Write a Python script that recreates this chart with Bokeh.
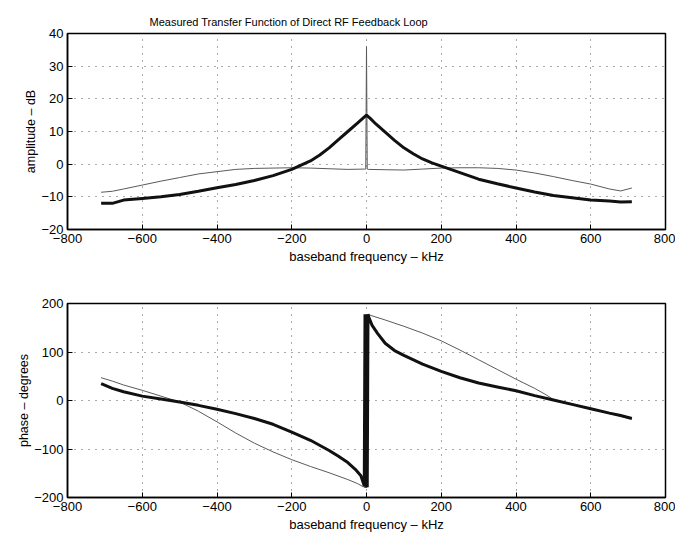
from bokeh.plotting import figure
from bokeh.models import FixedTicker, Range1d
from bokeh.layouts import column
from bokeh.embed import file_html
from bokeh.resources import INLINE

# ---------------- data ----------------
title_text = "Measured Transfer Function of Direct RF Feedback Loop"
x_label = "baseband frequency \u2013 kHz"
amp_label = "amplitude \u2013 dB"
phase_label = "phase \u2013 degrees"

x_ticks = [-800, -600, -400, -200, 0, 200, 400, 600, 800]
x_tick_labels = ["\u2212800", "\u2212600", "\u2212400", "\u2212200", "0", "200", "400", "600", "800"]
amp_ticks = [-20, -10, 0, 10, 20, 30, 40]
amp_tick_labels = ["\u221220", "\u221210", "0", "10", "20", "30", "40"]
phase_ticks = [-200, -100, 0, 100, 200]
phase_tick_labels = ["\u2212200", "\u2212100", "0", "100", "200"]

# amplitude, closed-loop (dark) curve
amp_dark_freq = [-710, -680, -650, -600, -550, -500, -450, -400, -350, -300, -250, -200,
                 -175, -150, -125, -100, -75, -50, -25, -10, 0, 10, 25, 50, 75, 100,
                 125, 150, 175, 200, 250, 300, 350, 400, 450, 500, 550, 600, 650, 680, 710]
amp_dark_db = [-12.0, -12.0, -11.0, -10.5, -10.0, -9.3, -8.3, -7.2, -6.2, -5.0, -3.5, -1.6,
               -0.3, 1.0, 2.8, 5.0, 7.5, 10.0, 12.5, 14.0, 15.0, 14.0, 12.3, 9.8, 7.3, 5.0,
               3.2, 1.6, 0.4, -0.6, -2.6, -4.6, -6.0, -7.3, -8.5, -9.6, -10.3, -11.0, -11.3, -11.6, -11.5]

# amplitude, open-loop (light) curve
amp_light_freq = [-710, -680, -650, -600, -550, -500, -450, -400, -350, -300, -250, -200,
                  -150, -100, -50, -5, -2, 0, 2, 5, 50, 100, 150, 200, 250, 300, 350, 400,
                  450, 500, 550, 600, 650, 680, 710]
amp_light_db = [-8.6, -8.3, -7.6, -6.4, -5.2, -4.1, -3.0, -2.3, -1.6, -1.3, -1.2, -1.1,
                -1.2, -1.4, -1.6, -1.5, -1.5, 36.0, -1.5, -1.6, -1.7, -1.8, -1.5, -1.2, -1.1, -1.1, -1.3, -1.8,
                -2.7, -3.8, -5.0, -6.1, -7.6, -8.2, -7.3]

# phase, closed-loop (dark) curve
phase_dark_freq = [-710, -680, -650, -600, -550, -500, -450, -400, -350, -300, -250, -200,
                   -150, -100, -75, -50, -30, -15, -6, -4, -2, 0, 2, 4, 6, 15, 30, 50, 75, 100,
                   150, 200, 250, 300, 350, 400, 450, 500, 550, 600, 650, 680, 710]
phase_dark_deg = [35, 25, 18, 9, 3, -3, -10, -18, -27, -37, -49, -65,
                  -82, -103, -115, -128, -142, -155, -176, 178, -180, 178, -179, 178, 172, 155, 138, 118, 103, 93,
                  75, 60, 47, 36, 28, 20, 10, 1, -8, -17, -26, -31, -37]

# phase, open-loop (light) curve
phase_light_freq = [-710, -680, -650, -600, -550, -500, -450, -400, -350, -300, -250, -200,
                    -150, -100, -50, -25, -8, 0, 5, 50, 100, 150, 200, 250, 300, 350, 400,
                    450, 480, 500, 550, 600, 650, 710]
phase_light_deg = [47, 40, 32, 21, 9, -3, -22, -44, -67, -88, -106, -122,
                   -136, -149, -163, -171, -178, 0, 177, 166, 153, 139, 123, 104, 84, 64, 44,
                   25, 12, 2, -7, -17, -27, -38]

FONT = "Liberation Sans"
W = 675


def make_fig(height, yr, yticks, ylabels, ylabel, top_border, bottom_border):
    p = figure(width=W, height=height, x_range=Range1d(-800, 800), y_range=Range1d(*yr),
               output_backend="svg", toolbar_location=None,
               min_border_left=67, min_border_right=10,
               min_border_top=top_border, min_border_bottom=bottom_border)
    p.background_fill_color = "white"
    p.outline_line_color = "black"
    p.outline_line_width = 1.5
    xt = FixedTicker(ticks=x_ticks)
    yt = FixedTicker(ticks=yticks)
    p.xaxis.ticker = xt
    p.yaxis.ticker = yt
    p.xaxis.major_label_overrides = dict(zip(x_ticks, x_tick_labels))
    p.yaxis.major_label_overrides = dict(zip(yticks, ylabels))
    p.xaxis.axis_label = x_label
    p.yaxis.axis_label = ylabel
    for ax in (p.xaxis[0], p.yaxis[0]):
        ax.axis_line_color = "black"
        ax.axis_line_width = 1.5
        ax.major_tick_in = 5
        ax.major_tick_out = 0
        ax.minor_tick_line_color = None
        ax.major_tick_line_color = "black"
        ax.major_label_text_font = FONT
        ax.major_label_text_color = "black"
        ax.axis_label_text_font = FONT
        ax.axis_label_text_font_style = "normal"
        ax.axis_label_text_color = "black"
    p.xaxis.major_label_text_font_size = "13px"
    p.yaxis.major_label_text_font_size = "13px"
    p.xaxis.axis_label_text_font_size = "13px"
    p.yaxis.axis_label_text_font_size = "12.5px"
    p.xaxis.major_label_standoff = 4
    p.xaxis.axis_label_standoff = 3
    p.yaxis.major_label_standoff = 4
    p.yaxis.axis_label_standoff = 0
    p.xgrid.ticker = xt
    p.ygrid.ticker = yt
    for g in (p.xgrid[0], p.ygrid[0]):
        g.grid_line_color = "#555555"
        g.grid_line_dash = "1 6"
        g.grid_line_width = 1
    return p


p1 = make_fig(270, (-20, 40), amp_ticks, amp_tick_labels, amp_label, 33, 41)
p1.title.text = title_text
p1.title.text_font = FONT
p1.title.text_font_size = "11px"
p1.title.text_font_style = "normal"
p1.title.text_color = "black"
p1.title.align = "left"
p1.title.offset = 82
p1.title.standoff = 12
p1.line(amp_light_freq, amp_light_db, line_color="#5a5a5a", line_width=1)
p1.line(amp_dark_freq, amp_dark_db, line_color="#111111", line_width=3)

p2 = make_fig(264, (-200, 200), phase_ticks, phase_tick_labels, phase_label, 33, 35)
p2.line(phase_light_freq, phase_light_deg, line_color="#5a5a5a", line_width=1)
p2.line(phase_dark_freq, phase_dark_deg, line_color="#111111", line_width=3)

layout = column(p1, p2)
open("out.html", "w").write(file_html(layout, INLINE))
